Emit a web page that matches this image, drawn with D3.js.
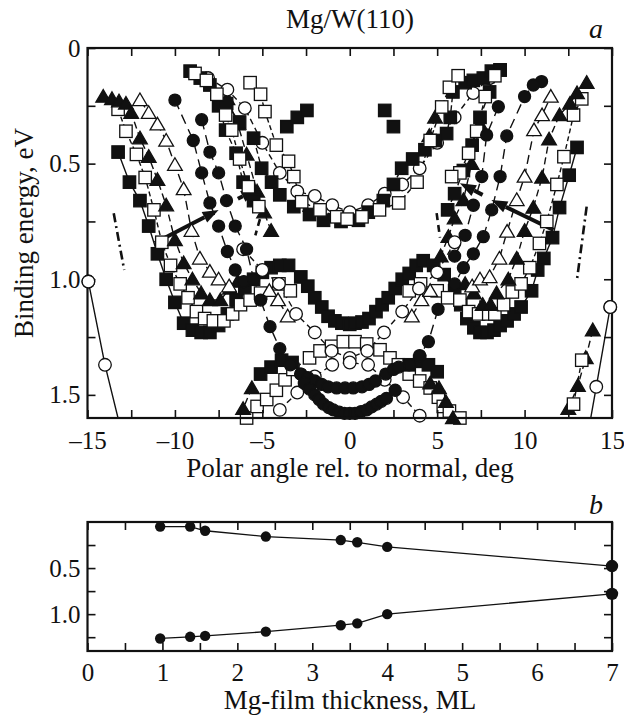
<!DOCTYPE html>
<html><head><meta charset="utf-8">
<script src="https://cdn.jsdelivr.net/npm/d3@7"></script>
<style>
body{margin:0;background:#fff}
svg{display:block}
text{font-family:"Liberation Serif","Times New Roman",serif;fill:#111}
</style>
</head><body>
<svg id="c" width="624" height="717"></svg>
<script>
// ---------------- Panel a data: [polar angle (deg), binding energy (eV)] ----------------
const sqFilledW = [[-13.25,0.45],[-12.6,0.58],[-12.0,0.66],[-11.5,0.77],[-11.0,0.89],[-10.5,1.0],[-10.0,1.1],[-9.5,1.19],[-9.0,1.22],[-8.5,1.23],[-8.0,1.23],[-7.5,1.2],[-7.0,1.15],[-6.5,1.09],[-6.0,1.04],[-5.5,1.0],[-5.0,0.97],[-4.5,0.95],[-4.0,0.94],[-3.5,0.94],[-2.8,0.99],[-2.4,1.03],[-2.0,1.08],[-1.6,1.12],[-1.24,1.16],[-0.85,1.18],[-0.45,1.19],[0,1.195],[0.3,1.19],[0.7,1.185],[1.1,1.17],[1.5,1.14],[1.85,1.11],[2.2,1.08],[2.6,1.04],[3.0,1.0],[3.4,0.975],[3.8,0.94],[4.2,0.92],[4.8,0.94],[5.4,0.98],[6.0,1.05],[6.35,1.11],[6.7,1.17],[7.1,1.21],[7.45,1.23],[7.85,1.23],[8.25,1.22],[8.6,1.2],[9.0,1.18],[9.4,1.15],[9.8,1.12],[10.4,1.05],[10.75,0.96],[11.1,0.91],[11.6,0.82],[12.0,0.69],[12.55,0.55],[13.0,0.43]];
const sqOpenWL = [[-13.25,0.265],[-12.8,0.36],[-12.2,0.46],[-11.7,0.56],[-11.2,0.70],[-10.75,0.84],[-10.25,0.94],[-9.7,1.02],[-9.25,1.08],[-8.77,1.14],[-8.3,1.17],[-7.8,1.18],[-7.2,1.18],[-6.7,1.15],[-6.25,1.11],[-5.7,1.09],[-5.1,1.06],[-4.05,1.02],[-3.4,1.05]];
const sqOpenWR = [[3.4,1.05],[4.05,1.02],[5.0,1.05],[5.6,1.08],[6.3,1.09],[6.8,1.14],[7.37,1.15],[7.95,1.15],[8.3,1.15],[8.8,1.11],[9.3,1.055],[9.8,1.02],[10.3,0.95],[10.85,0.845],[11.27,0.75],[11.85,0.59],[12.25,0.47],[12.8,0.29],[13.27,0.22]];
const sqOpenCap = [[-5.9,1.6],[-5.3,1.55],[-4.75,1.52],[-4.2,1.48],[-3.7,1.435],[-3.25,1.39],[-2.3,1.34],[-1.7,1.31],[-1.04,1.29],[-0.37,1.27],[0.3,1.27],[0.97,1.28],[1.73,1.305],[2.3,1.34],[2.78,1.37],[3.4,1.41],[4.0,1.44],[4.6,1.47],[5.07,1.51],[5.35,1.55],[5.7,1.57],[6.3,1.6]];
const triFilledL = [[-14.1,0.21],[-13.6,0.22],[-13.2,0.23],[-12.8,0.24],[-12.5,0.28],[-12.0,0.39],[-11.5,0.47],[-11.0,0.57],[-10.5,0.68],[-10.0,0.83],[-9.5,0.93],[-9.0,1.0],[-8.5,1.06],[-8.0,1.09],[-7.4,1.09],[-6.85,1.04],[-6.4,1.01]];
const triFilledR = [[6.6,1.02],[7.1,1.06],[7.6,1.11],[8.05,1.11],[8.4,1.06],[9.07,1.0],[9.55,0.91],[10.0,0.79],[10.5,0.69],[11.0,0.56],[11.4,0.395],[12.0,0.29],[12.6,0.24],[13.0,0.195],[13.55,0.15]];
const triFilledInL = [[-7.0,0.22],[-6.4,0.33],[-5.9,0.46],[-5.3,0.62],[-4.9,0.71],[-4.5,0.79]];
const triFilledInR = [[7.45,0.33],[6.97,0.50],[6.5,0.657],[6.0,0.736],[5.64,0.816],[5.2,0.9]];
const triFilledTopR = [[4.88,0.30],[4.55,0.38]];
const triFilledLowL = [[-5.6,1.47],[-6.1,1.56],[-6.4,1.66]];
const triFilledLowR = [[4.6,1.45],[5.1,1.47],[5.5,1.53],[5.9,1.6]];
const triFilledFarR = [[13.9,1.22],[13.5,1.34],[13.05,1.46],[12.5,1.56]];
const sqOpenFarR = [[13.27,1.35],[12.8,1.54]];
const triOpenL = [[-12.0,0.225],[-11.5,0.28],[-11.0,0.33],[-10.5,0.40],[-10.0,0.505],[-9.5,0.61],[-9.05,0.79],[-8.57,0.91],[-8.0,0.967],[-7.5,1.0],[-6.9,1.03]];
const triOpenR = [[7.0,1.03],[7.45,1.0],[8.0,0.99],[8.56,0.91],[9.0,0.794],[9.55,0.657],[10.0,0.556],[10.54,0.355],[11.0,0.29],[11.5,0.21]];
const triOpenCL = [[-4.6,1.05],[-4.1,1.09],[-3.55,1.16]];
const triOpenCR = [[3.55,1.16],[4.1,1.09],[4.6,1.05]];
const circOpenU = [[-8.1,0.13],[-7.0,0.18],[-6.0,0.26],[-5.0,0.41],[-4.0,0.54],[-3.0,0.62],[-2.0,0.64],[-1.0,0.68],[0,0.71],[1.05,0.68],[2.0,0.63],[3.0,0.59],[4.0,0.52],[5.0,0.41],[6.0,0.30],[7.06,0.195],[8.0,0.13]];
const circOpenMid = [[-6.1,0.87],[-5.0,0.96],[-4.05,1.02],[-3.07,1.15],[-2.0,1.23],[-1.04,1.31],[0,1.34],[1.0,1.31],[1.96,1.23],[3.0,1.14],[3.96,1.04],[5.0,0.97],[6.0,0.84]];
const circOpenLow = [[-4.0,1.565],[-3.0,1.49],[-2.0,1.42],[-1.0,1.37],[0,1.36],[1.05,1.37],[2.0,1.435],[3.05,1.51],[4.0,1.59]];
const circOpenEdgeL = [[-14.95,1.01],[-14.0,1.37],[-12.8,1.74]];
const circOpenEdgeR = [[14.9,1.12],[14.1,1.465],[13.55,1.7]];
const circFilledAL = [[-10.0,0.225],[-8.95,0.40],[-8.47,0.54],[-8.0,0.67],[-7.5,0.77],[-7.0,0.88],[-6.55,0.96],[-6.06,1.01]];
const circFilledBL = [[-8.47,0.31],[-8.0,0.45],[-7.5,0.54],[-7.05,0.66],[-6.55,0.77],[-5.9,0.87],[-5.5,1.0],[-5.1,1.09],[-4.56,1.205],[-4.0,1.30],[-3.4,1.37],[-2.8,1.41]];
const circFilledAR = [[10.97,0.145],[10.5,0.16],[10.0,0.21],[8.98,0.38],[8.6,0.556],[8.12,0.70],[7.64,0.816],[7.07,0.89],[6.5,0.95],[6.0,1.02],[5.05,1.13],[4.5,1.27],[4.0,1.33],[3.4,1.37]];
const circFilledBR = [[8.5,0.254],[7.83,0.376],[7.55,0.556],[7.07,0.68],[6.6,0.81],[6.0,0.90]];
const circFilledMid = [[-2.8,1.41],[-2.4,1.425],[-2.0,1.44],[-1.6,1.455],[-1.24,1.465],[-0.75,1.47],[-0.27,1.47],[0.2,1.47],[0.7,1.465],[1.1,1.455],[1.47,1.44],[2.06,1.41],[2.5,1.39],[2.8,1.38]];
const circFilledLow = [[-2.6,1.45],[-2.3,1.475],[-2.0,1.50],[-1.75,1.52],[-1.5,1.54],[-1.2,1.555],[-0.94,1.565],[-0.6,1.575],[-0.3,1.58],[0,1.58],[0.3,1.58],[0.65,1.572],[0.97,1.565],[1.25,1.552],[1.54,1.54],[1.8,1.528],[2.1,1.515],[2.6,1.48]];
const sqFilledSteepL = [[-9.13,0.10],[-8.55,0.13],[-8.0,0.16],[-7.5,0.25],[-7.1,0.355],[-6.5,0.455],[-6.1,0.58],[-5.5,0.66]];
const sqFilledU = [[-7.04,0.24],[-6.3,0.32],[-5.5,0.39],[-5.04,0.52],[-4.47,0.58],[-4.0,0.635],[-3.2,0.686],[-2.3,0.72],[-1.5,0.745],[-0.5,0.75],[0.5,0.745],[1.06,0.71],[1.92,0.66],[2.5,0.59],[2.97,0.52],[3.6,0.48],[4.3,0.44],[4.9,0.40],[5.54,0.37],[5.75,0.30],[5.9,0.19],[6.6,0.15],[7.07,0.14],[7.64,0.13],[8.1,0.10],[8.6,0.095]];
const sqFilledSteepR = [[8.6,0.095],[8.0,0.19],[7.45,0.30],[7.0,0.42],[6.5,0.53],[6.0,0.63],[5.6,0.70]];
const sqFilledIso = [[-3.6,0.34],[-3.0,0.30],[-2.45,0.27],[2.0,0.27],[2.5,0.34]];
const sqFilledLow = [[-5.1,1.41],[-4.5,1.38],[-3.9,1.35],[-3.3,1.36],[3.4,1.37],[4.0,1.355],[4.5,1.37],[5.0,1.40]];
const sqOpenSteepL = [[-8.85,0.11],[-8.2,0.14],[-7.6,0.2],[-7.1,0.29],[-6.75,0.355],[-6.3,0.48],[-5.8,0.60],[-5.2,0.686]];
const sqOpenU = [[-5.7,0.15],[-5.1,0.20],[-4.85,0.275],[-4.2,0.42],[-3.5,0.49],[-3.2,0.556],[-2.75,0.665],[-1.7,0.70],[-0.75,0.73],[-0.15,0.74],[0.7,0.73],[1.7,0.70],[2.8,0.67],[3.85,0.58],[4.6,0.40],[5.26,0.255],[5.7,0.17],[6.2,0.12]];
const sqOpenSteepR = [[8.3,0.12],[7.75,0.21],[7.26,0.36],[6.8,0.455],[6.3,0.54],[5.83,0.556]];
// marker-less guide strokes and arrows
const edgeDashL = [[-13.5,0.715],[-12.9,0.96]];
const edgeDashR = [[13.55,0.686],[13.0,1.0]];
const innerDashL = [[-4.95,0.69],[-5.4,0.81]];
const innerDashR = [[4.97,0.714],[5.16,0.82]];
const arrowL = [[-11.15,0.843],[-7.5,0.70]];
const arrowL2 = [[-6.4,0.652],[-5.3,0.61]];
const arrowR = [[11.65,0.787],[8.1,0.657]];
const arrowR2 = [[7.6,0.635],[6.3,0.585]];

// ---------------- Panel b data ----------------
const thickness = [0.97,1.37,1.57,2.38,3.38,3.6,4.0,7.0];
const upperBand = [0.05,0.05,0.095,0.158,0.196,0.22,0.27,0.478];
const lowerBand = [1.264,1.246,1.236,1.19,1.12,1.10,1.0,0.78];

// ---------------- Tick labels ----------------
const xTicksA = [-15,-10,-5,0,5,10,15];
const xTickLabelsA = ["\u201315","\u201310","\u20135","0","5","10","15"];
const yTicksA = [0,0.5,1.0,1.5];
const yTickLabelsA = ["0","0.5","1.0","1.5"];
const xTicksB = [0,1,2,3,4,5,6,7];
const xTickLabelsB = ["0","1","2","3","4","5","6","7"];
const yTicksB = [0.5,1.0];
const yTickLabelsB = ["0.5","1.0"];

// ---------------- Drawing ----------------
const svg = d3.select("#c");
const FONT = '"Liberation Serif","Times New Roman",serif';
const A = {l:87.5, r:612, t:48, b:418};
const B = {l:87.5, r:612, t:522, b:651};
const x = d3.scaleLinear().domain([-15,15]).range([A.l,A.r]);
const y = d3.scaleLinear().domain([0,1.6]).range([A.t,A.b]);
const xb = d3.scaleLinear().domain([0,7]).range([B.l,B.r]);
const yb = d3.scaleLinear().domain([0,1.4]).range([B.t,B.b]);

function labelFmt(vals, labels){
  return v => { const i = vals.findIndex(t => Math.abs(t-v) < 1e-6); return i >= 0 ? labels[i] : ""; };
}
function drawAxes(P, sx, sy, xMinor, yMinor, xv, xl, yv, yl, xPad){
  const g = svg.append("g");
  g.append("g").attr("transform",`translate(0,${P.b})`)
    .call(d3.axisBottom(sx).tickValues(xMinor).tickSize(-8).tickPadding(xPad).tickFormat(labelFmt(xv,xl)));
  g.append("g").attr("transform",`translate(0,${P.t})`)
    .call(d3.axisTop(sx).tickValues(xMinor).tickSize(-8).tickFormat(""));
  g.append("g").attr("transform",`translate(${P.l},0)`)
    .call(d3.axisLeft(sy).tickValues(yMinor).tickSize(-8).tickPadding(7).tickFormat(labelFmt(yv,yl)));
  g.append("g").attr("transform",`translate(${P.r},0)`)
    .call(d3.axisRight(sy).tickValues(yMinor).tickSize(-8).tickFormat(""));
  g.selectAll(".domain").remove();
  g.selectAll(".tick line").attr("stroke","#111").attr("stroke-width",1.6);
  g.selectAll(".tick text").attr("font-size",25).attr("fill","#111").style("font-family",FONT);
  svg.append("rect").attr("x",P.l).attr("y",P.t).attr("width",P.r-P.l).attr("height",P.b-P.t)
    .attr("fill","none").attr("stroke","#111").attr("stroke-width",2.2);
}

svg.append("clipPath").attr("id","clipA").append("rect")
  .attr("x",A.l).attr("y",A.t).attr("width",A.r-A.l).attr("height",A.b-A.t);

const series = [
  {d:sqFilledW, s:"sqF", dash:null},
  {d:sqOpenWL, s:"sqO", dash:"5,3"},
  {d:sqOpenWR, s:"sqO", dash:"5,3"},
  {d:sqOpenCap, s:"sqO", dash:"5,3"},
  {d:triFilledL, s:"triF", dash:"7,4"},
  {d:triFilledR, s:"triF", dash:"7,4"},
  {d:triFilledInL, s:"triF", dash:"7,4"},
  {d:triFilledInR, s:"triF", dash:"7,4"},
  {d:triFilledTopR, s:"triF", dash:"7,4"},
  {d:triFilledLowL, s:"triF", dash:"7,4"},
  {d:triFilledLowR, s:"triF", dash:"7,4"},
  {d:triFilledFarR, s:"triF", dash:"7,4"},
  {d:sqOpenFarR, s:"sqO", dash:"5,3"},
  {d:triOpenL, s:"triO", dash:"9,5"},
  {d:triOpenR, s:"triO", dash:"9,5"},
  {d:triOpenCL, s:"triO", dash:"9,5"},
  {d:triOpenCR, s:"triO", dash:"9,5"},
  {d:circOpenU, s:"cirO", dash:"6,4"},
  {d:circOpenMid, s:"cirO", dash:"6,4"},
  {d:circOpenLow, s:"cirO", dash:"6,4"},
  {d:circOpenEdgeL, s:"cirO", dash:null},
  {d:circOpenEdgeR, s:"cirO", dash:null},
  {d:sqFilledSteepL, s:"sqF", dash:"6,3"},
  {d:sqFilledU, s:"sqF", dash:"6,3"},
  {d:sqFilledSteepR, s:"sqF", dash:"6,3"},
  {d:sqFilledIso, s:"sqF", dash:"none"},
  {d:sqFilledLow, s:"sqF", dash:"none"},
  {d:sqOpenSteepL, s:"sqO", dash:"5,3"},
  {d:sqOpenU, s:"sqO", dash:"5,3"},
  {d:sqOpenSteepR, s:"sqO", dash:"5,3"},
  {d:circFilledAL, s:"cirF", dash:"10,6"},
  {d:circFilledBL, s:"cirF", dash:"10,6"},
  {d:circFilledAR, s:"cirF", dash:"10,6"},
  {d:circFilledBR, s:"cirF", dash:"10,6"},
  {d:circFilledMid, s:"cirF", dash:"10,6"},
  {d:circFilledLow, s:"cirF", dash:"10,6"}
];

const line = d3.line().x(p => x(p[0])).y(p => y(p[1]));
const gl = svg.append("g").attr("clip-path","url(#clipA)");
series.forEach(S => {
  if (S.dash === "none") return;
  gl.append("path").attr("d", line(S.d)).attr("fill","none").attr("stroke","#111")
    .attr("stroke-width",1.4).attr("stroke-dasharray", S.dash);
});
[[edgeDashL,"9,4,2,4"],[edgeDashR,"9,4,2,4"],[innerDashL,"7,5"],[innerDashR,"7,5"]].forEach(([d,da]) => {
  gl.append("path").attr("d", line(d)).attr("fill","none").attr("stroke","#111")
    .attr("stroke-width",2.6).attr("stroke-dasharray",da);
});
function arrow(d, head){
  const x1=x(d[0][0]), y1=y(d[0][1]), x2=x(d[1][0]), y2=y(d[1][1]);
  const ang = Math.atan2(y2-y1, x2-x1), L=16, Wd=6;
  const bx = x2 - L*Math.cos(ang), by = y2 - L*Math.sin(ang);
  gl.append("line").attr("x1",x1).attr("y1",y1).attr("x2",head?bx:x2).attr("y2",head?by:y2)
    .attr("stroke","#111").attr("stroke-width",4);
  if (head) {
    const pts = [[x2,y2],[bx - Wd*Math.sin(ang), by + Wd*Math.cos(ang)],[bx + Wd*Math.sin(ang), by - Wd*Math.cos(ang)]];
    gl.append("polygon").attr("points", pts.map(p=>p.join(",")).join(" ")).attr("fill","#111");
  }
}
arrow(arrowL,true); arrow(arrowL2,true); arrow(arrowR,true); arrow(arrowR2,true);

const gm = svg.append("g");
function marker(g, s, cx, cy){
  const k = 6.2;
  if (s === "sqF" || s === "sqO") {
    g.append("rect").attr("x",cx-k).attr("y",cy-k).attr("width",2*k).attr("height",2*k)
      .attr("fill", s==="sqF" ? "#111" : "#fff").attr("stroke","#111").attr("stroke-width",1.3);
  } else if (s === "cirF" || s === "cirO") {
    g.append("circle").attr("cx",cx).attr("cy",cy).attr("r", s==="cirF" ? 6.0 : 6.3)
      .attr("fill", s==="cirF" ? "#111" : "#fff").attr("stroke","#111").attr("stroke-width",1.3);
  } else {
    const h = 7.0;
    g.append("polygon").attr("points", `${cx},${cy-h} ${cx+h*1.05},${cy+h*0.8} ${cx-h*1.05},${cy+h*0.8}`)
      .attr("fill", s==="triF" ? "#111" : "#fff").attr("stroke","#111").attr("stroke-width",1.3)
      .attr("stroke-linejoin","miter");
  }
}
series.forEach(S => {
  S.d.filter(p => p[1] <= 1.62 && p[0] >= -15.1 && p[0] <= 15.1)
    .forEach(p => marker(gm, S.s, x(p[0]), y(p[1])));
});

drawAxes(A, x, y, d3.range(-15,15.01,2.5), d3.range(0,1.51,0.25), xTicksA, xTickLabelsA, yTicksA, yTickLabelsA, 13);
[circOpenEdgeL, circOpenEdgeR].forEach(d => d.filter(p => p[1] <= 1.6).forEach(p => {
  if (Math.abs(p[0]) > 14.5) marker(svg, "cirO", x(p[0]), y(p[1]));
}));

// Panel b
const gb = svg.append("g");
const lineB = d3.line().x(d => xb(d[0])).y(d => yb(d[1]));
[upperBand, lowerBand].forEach(vals => {
  const pts = thickness.map((t,i) => [t, vals[i]]);
  gb.append("path").attr("d", lineB(pts)).attr("fill","none").attr("stroke","#111").attr("stroke-width",1.3);
});
drawAxes(B, xb, yb, d3.range(0,7.01,0.5), d3.range(0.25,1.26,0.25), xTicksB, xTickLabelsB, yTicksB, yTickLabelsB, 12);
[upperBand, lowerBand].forEach(vals => {
  thickness.forEach((t,i) => {
    svg.append("circle").attr("cx", xb(t)).attr("cy", yb(vals[i])).attr("r", t === 7 ? 6.2 : 5.2).attr("fill","#111");
  });
});

// Texts
svg.append("text").attr("x",350).attr("y",28).attr("text-anchor","middle").attr("font-size",27).text("Mg/W(110)");
svg.append("text").attr("x",596).attr("y",38).attr("text-anchor","middle").attr("font-size",28).attr("font-style","italic").text("a");
svg.append("text").attr("x",596).attr("y",514).attr("text-anchor","middle").attr("font-size",28).attr("font-style","italic").text("b");
svg.append("text").attr("transform","translate(33,233) rotate(-90)").attr("text-anchor","middle").attr("font-size",27).text("Binding energy, eV");
svg.append("text").attr("x",350).attr("y",477).attr("text-anchor","middle").attr("font-size",27).text("Polar angle rel. to normal, deg");
svg.append("text").attr("x",350).attr("y",709).attr("text-anchor","middle").attr("font-size",27).text("Mg-film thickness, ML");
</script>
</body></html>
